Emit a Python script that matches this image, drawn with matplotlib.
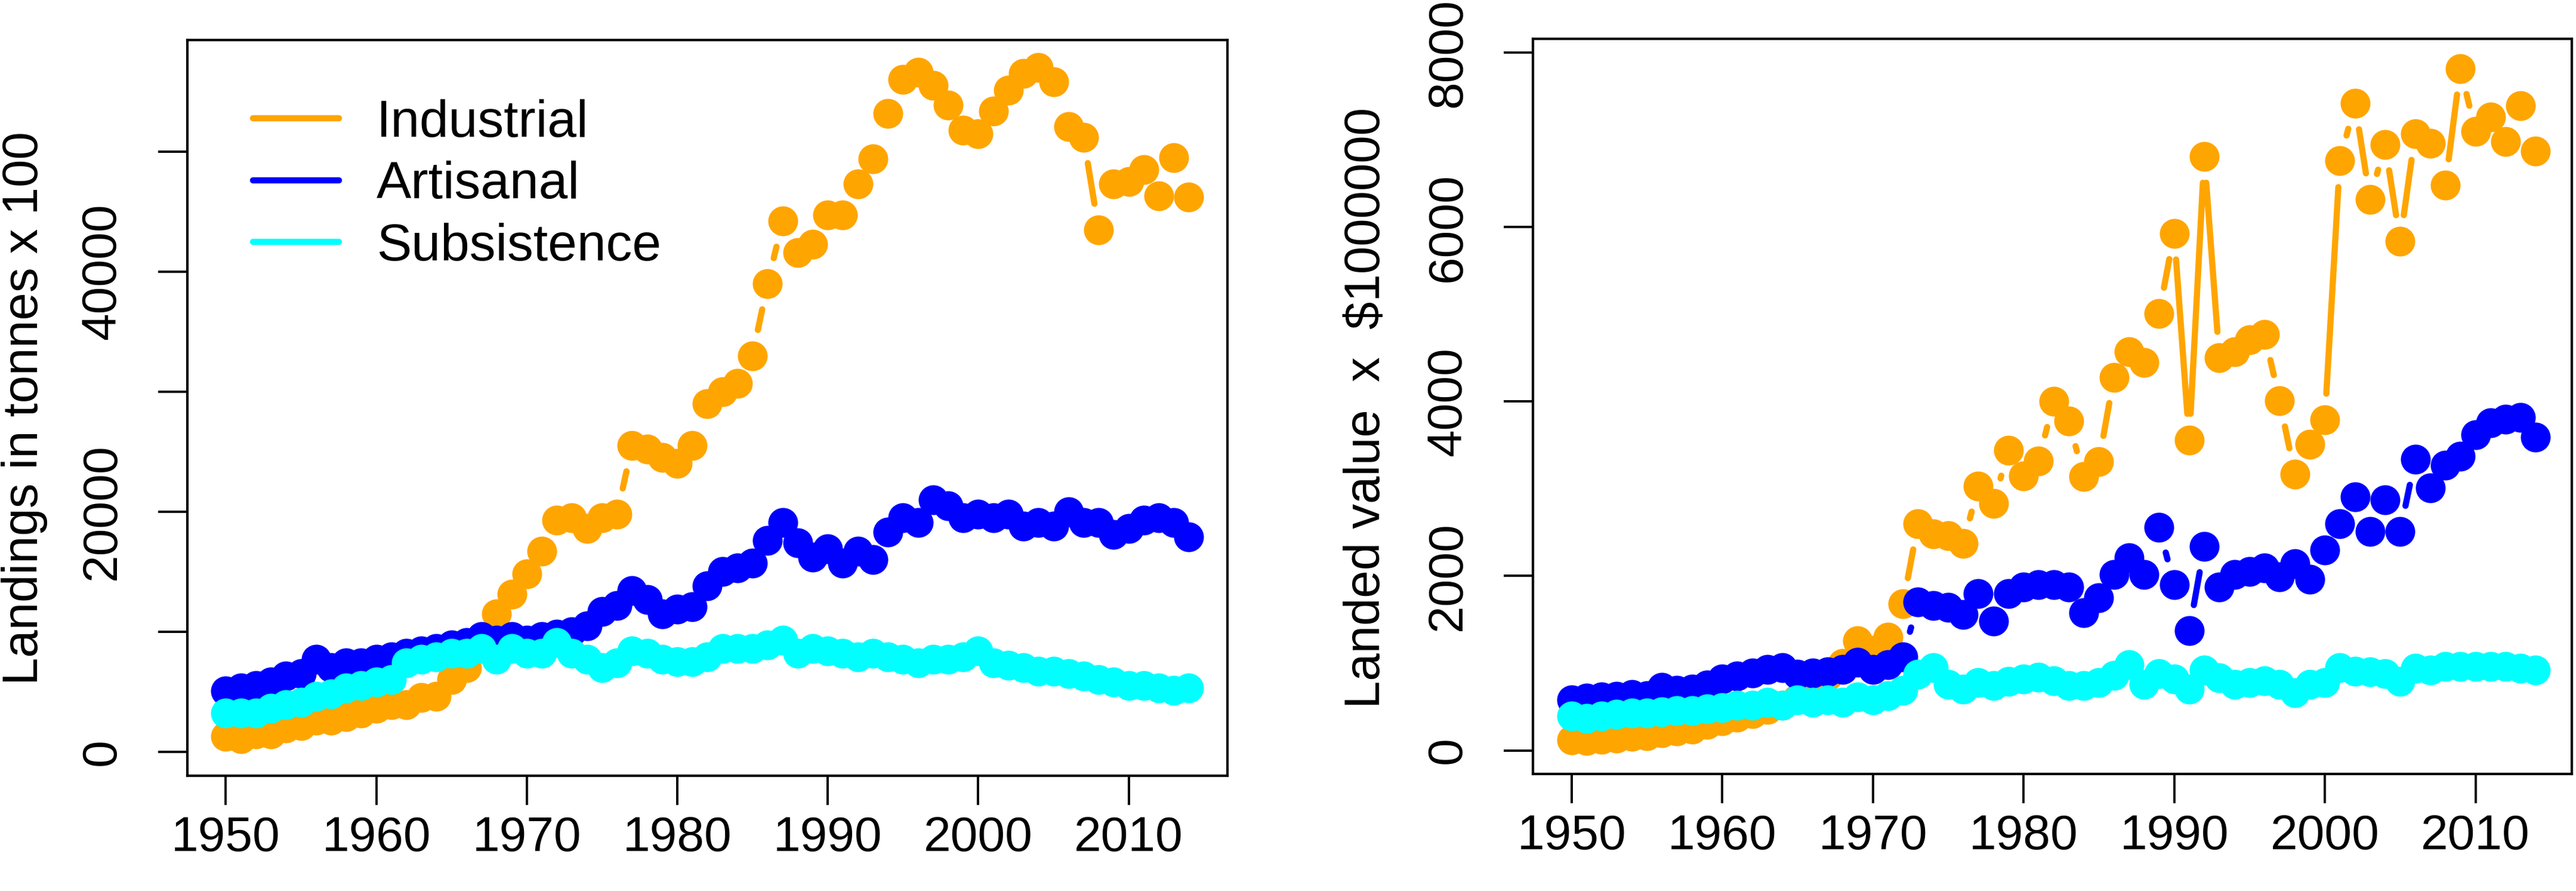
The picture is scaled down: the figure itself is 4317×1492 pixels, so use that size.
import numpy as np
import matplotlib
matplotlib.use("Agg")
import matplotlib.pyplot as plt

plt.rcParams['font.family'] = ['Liberation Sans', 'DejaVu Sans']

# years 1950-2014
years = np.arange(1950, 2015)

# landings, tonnes x 100
land_industrial = [1280, 1100, 1500, 1500, 2000, 2200, 2600, 2600, 2900, 3200,
                   3600, 3900, 3900, 4500, 4600, 6000, 7000, 9300, 11500, 13100,
                   14800, 16700, 19300, 19500, 18600, 19500, 19800, 25500, 25200, 24500,
                   24000, 25500, 29000, 30000, 30700, 33000, 39000, 44200, 41600, 42300,
                   44700, 44700, 47300, 49400, 53200, 56000, 56600, 55500, 53900, 51800,
                   51500, 53400, 55100, 56500, 57000, 55800, 52100, 51200, 43500, 47300,
                   47500, 48500, 46300, 49500, 46200]
land_artisanal = [5070, 5300, 5500, 5800, 6300, 6500, 7700, 7000, 7400, 7400,
                  7700, 7900, 8200, 8400, 8600, 8900, 9100, 9600, 9300, 9600,
                  9300, 9600, 9800, 10000, 10500, 11700, 12200, 13400, 12700, 11500,
                  11900, 12100, 13800, 15000, 15300, 15700, 17600, 19100, 17400, 16200,
                  16900, 15700, 16700, 16000, 18300, 19500, 19100, 21000, 20500, 19500,
                  19800, 19500, 19800, 18800, 19100, 18800, 20000, 19100, 19100, 18100,
                  18600, 19300, 19500, 19100, 17900]
land_subsistence = [3200, 3200, 3200, 3600, 3900, 4100, 4600, 4800, 5300, 5500,
                    5800, 6000, 7400, 7700, 7900, 8200, 8200, 8600, 7700, 8600,
                    8200, 8200, 9100, 8200, 7700, 7000, 7400, 8400, 8200, 7700,
                    7500, 7500, 7900, 8600, 8600, 8600, 8900, 9300, 8200, 8600,
                    8400, 8200, 7900, 8200, 7900, 7700, 7400, 7700, 7700, 7900,
                    8400, 7400, 7200, 7000, 6700, 6700, 6500, 6300, 6000, 5800,
                    5500, 5500, 5300, 5100, 5300]

# landed value, $ x 1000000
val_industrial = [120, 110, 130, 140, 160, 170, 200, 220, 240, 300,
                  340, 380, 420, 470, 520, 590, 680, 850, 1000, 1260,
                  1150, 1300, 1680, 2600, 2480, 2460, 2370, 3030, 2830, 3440,
                  3150, 3320, 4000, 3780, 3140, 3310, 4280, 4570, 4450, 5010,
                  5930, 3560, 6810, 4500, 4570, 4710, 4770, 4010, 3170, 3510,
                  3790, 6760, 7420, 6320, 6950, 5840, 7070, 6960, 6480, 7820,
                  7100, 7260, 6980, 7390, 6870]
val_artisanal = [580, 600, 615, 620, 640, 630, 720, 690, 700, 750,
                 820, 850, 890, 930, 950, 870, 890, 900, 930, 1010,
                 930, 980, 1070, 1700, 1660, 1640, 1560, 1800, 1480, 1800,
                 1870, 1900, 1900, 1870, 1580, 1750, 2020, 2210, 2020, 2560,
                 1900, 1370, 2340, 1870, 2020, 2050, 2090, 1990, 2140, 1960,
                 2300, 2600, 2910, 2510, 2870, 2510, 3340, 3010, 3270, 3370,
                 3620, 3760, 3800, 3820, 3590]
val_subsistence = [397, 370, 397, 412, 428, 428, 443, 458, 458, 473,
                   488, 519, 519, 550, 519, 580, 550, 580, 550, 611,
                   580, 626, 687, 870, 950, 760, 700, 780, 740, 790,
                   820, 840, 800, 740, 740, 780, 860, 980, 760, 880,
                   820, 700, 920, 830, 760, 780, 800, 760, 660, 760,
                   780, 950, 910, 900, 880, 790, 940, 920, 960, 960,
                   960, 960, 960, 940, 920]

series_names = ["Industrial", "Artisanal", "Subsistence"]
series_colors = ["orange", "blue", "cyan"]

LW = 7.5      # line width, pt
MS = 36       # marker size, pt
GAP = 44      # px gap around points (R type="b")

fig = plt.figure(figsize=(43.17, 14.92), dpi=100)


def draw_b(ax, x, y, color):
    # emulate R's type="b": points joined by lines with gaps
    pts = ax.transData.transform(np.column_stack([x, y]))
    inv = ax.transData.inverted()
    for p0, p1 in zip(pts[:-1], pts[1:]):
        d = np.hypot(*(p1 - p0))
        if d <= 2 * GAP:
            continue
        u = (p1 - p0) / d
        a = inv.transform(p0 + u * GAP)
        b = inv.transform(p1 - u * GAP)
        ax.plot([a[0], b[0]], [a[1], b[1]], color=color, lw=LW,
                solid_capstyle='round')
    ax.plot(x, y, 'o', color=color, ms=MS, mec=color, mew=0)


def style_axes(ax, yticks, ylabels):
    for s in ax.spines.values():
        s.set_linewidth(3)
    ax.set_xticks([1950, 1960, 1970, 1980, 1990, 2000, 2010])
    ax.set_yticks(yticks)
    ax.set_yticklabels(ylabels)
    ax.tick_params(axis='both', length=35, width=2.8, labelsize=59)
    ax.tick_params(axis='x', pad=13)
    ax.tick_params(axis='y', pad=40)
    for lab in ax.get_yticklabels():
        lab.set_rotation(90)
        lab.set_va('center')


# left panel: landings
ax1 = fig.add_axes([0.0727, 0.1294, 0.4038, 0.8257])
ax1.set_xlim(1947.44, 2016.56)
ax1.set_ylim(-2000, 59300)
for vals, c in zip([land_industrial, land_artisanal, land_subsistence], series_colors):
    draw_b(ax1, years, vals, c)
style_axes(ax1, np.arange(0, 60000, 10000),
           ['0', '', '20000', '', '40000', ''])
handles = [plt.Line2D([], [], color=c, lw=LW, solid_capstyle='round') for c in series_colors]
ax1.legend(handles, series_names, loc='upper left', bbox_to_anchor=(0.063, 0.92),
           frameon=False, fontsize=63, handlelength=1.65, handletextpad=0.72,
           labelspacing=0.26, borderpad=0, borderaxespad=0)
fig.text(0.0095, 0.542, "Landings in tonnes x 100", rotation=90,
         ha='center', va='center', fontsize=60)

# right panel: landed value
ax2 = fig.add_axes([0.5951, 0.1314, 0.4033, 0.825])
ax2.set_xlim(1947.44, 2016.4)
ax2.set_ylim(-270, 8160)
for vals, c in zip([val_industrial, val_artisanal, val_subsistence], series_colors):
    draw_b(ax2, years, vals, c)
style_axes(ax2, np.arange(0, 8001, 2000),
           ['0', '2000', '4000', '6000', '8000'])
fig.text(0.5305, 0.542, r"Landed value  x  \$1000000", rotation=90,
         ha='center', va='center', fontsize=60)

fig.savefig("out.png", dpi=100)
